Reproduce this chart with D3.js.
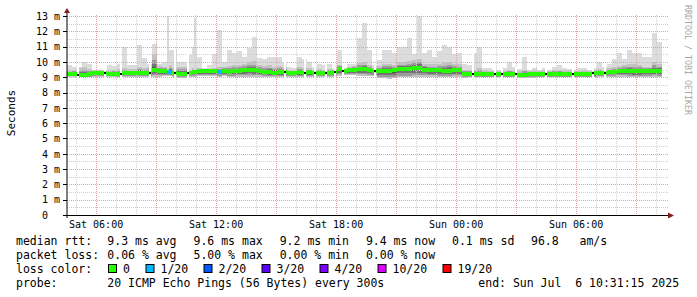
<!DOCTYPE html>
<html><head><meta charset="utf-8">
<script src="https://cdn.jsdelivr.net/npm/d3@7"></script>
<style>
html,body{margin:0;padding:0;background:#fff;}
svg{display:block;}
text{font-family:"DejaVu Sans Mono",monospace;white-space:pre;}
</style></head><body>
<svg id="c" width="697" height="297"></svg>
<script>
// ---------------- DATA ----------------
const startTime = "2025-07-05T04:31:15Z";
const endTime   = "2025-07-06T10:31:15Z";
const bucketMinutes = 15;

// median round-trip time per 15-minute bucket (ms)
const medianMs = [
 9.22,9.22,9.18,9.15,9.2,9.25,9.25,9.25,9.2,9.2,
 9.2,9.28,9.25,9.25,9.3,9.28,9.3,9.45,9.42,9.4,
 9.37,9.3,9.22,9.22,9.3,9.35,9.38,9.38,9.38,9.38,
 9.35,9.4,9.35,9.38,9.4,9.45,9.5,9.45,9.4,9.35,
 9.35,9.3,9.33,9.33,9.3,9.3,9.32,9.3,9.32,9.3,
 9.3,9.3,9.3,9.35,9.55,9.4,9.45,9.5,9.55,9.55,
 9.45,9.42,9.4,9.42,9.4,9.45,9.55,9.55,9.55,9.6,
 9.62,9.5,9.45,9.45,9.45,9.42,9.42,9.45,9.45,9.2,
 9.2,9.2,9.2,9.2,9.22,9.2,9.2,9.2,9.2,9.22,
 9.12,9.18,9.2,9.2,9.2,9.22,9.22,9.22,9.22,9.22,
 9.22,9.22,9.22,9.22,9.22,9.25,9.3,9.3,9.35,9.35,
 9.4,9.4,9.38,9.38,9.38,9.38,9.38,9.4,9.38,null];
// fastest ping per bucket (ms)
const minMs = [
 9.05,9.05,9.0,9.02,9.0,9.05,9.05,9.05,9.05,9.05,
 9.0,9.05,9.05,9.05,9.05,9.05,9.05,9.05,9.05,9.1,
 9.1,9.05,8.98,8.98,9.05,9.05,9.1,9.1,9.1,9.1,
 9.05,9.1,9.05,9.05,9.05,9.05,9.05,9.05,9.05,9.05,
 9.0,9.0,9.0,9.0,9.0,9.05,9.05,9.0,9.0,9.05,
 9.0,9.05,9.0,9.05,9.1,9.15,9.15,9.15,9.1,9.1,
 9.1,9.1,8.95,8.95,8.92,8.95,9.0,9.0,9.0,9.05,
 9.05,9.05,9.05,9.05,9.0,9.0,9.0,9.05,9.05,8.98,
 9.0,9.0,9.0,9.0,9.0,9.0,9.0,9.0,9.0,9.0,
 8.98,8.98,8.98,8.98,9.0,9.0,9.0,9.0,9.0,9.0,
 9.0,9.0,9.0,9.0,9.0,9.0,9.0,9.0,9.05,9.05,
 9.05,9.05,9.05,9.0,9.0,9.05,9.05,9.05,9.05,null];
// upper bulk of the pings per bucket (ms)
const upperMs = [
 9.45,9.5,9.6,9.65,9.55,9.45,9.45,9.4,9.45,9.5,
 9.55,9.6,9.55,9.55,9.7,9.6,9.65,10.5,9.75,9.7,
 9.8,9.6,9.7,9.7,9.5,9.6,9.6,9.5,9.55,9.6,
 9.7,9.7,9.75,9.8,9.8,9.9,10.0,10.05,9.8,9.75,
 9.8,9.7,9.75,9.7,9.5,9.45,9.65,9.6,9.6,9.5,
 9.55,9.5,9.55,9.5,9.8,9.55,9.7,9.75,9.95,10.0,
 9.8,9.6,9.75,9.9,9.9,9.8,10.0,10.0,10.05,10.1,
 10.2,9.9,9.85,9.85,9.9,9.95,10.0,9.9,9.85,9.5,
 9.5,9.5,9.6,9.45,9.4,9.4,9.4,9.4,9.5,9.45,
 9.4,9.5,9.4,9.45,9.4,9.45,9.4,9.5,9.5,9.45,
 9.45,9.4,9.4,9.45,9.4,9.45,9.55,9.5,9.6,9.7,
 9.75,9.8,9.9,9.85,9.8,9.7,9.7,10.0,9.9,null];
// slowest ping per bucket (ms)
const peakMs = [
 9.8,9.7,9.7,10.0,9.9,9.5,9.5,9.5,9.8,9.75,
 9.9,11.0,9.8,9.8,11.1,10.25,9.9,11.2,9.9,10.0,
 10.8,10.8,10.0,10.0,10.45,11.0,10.3,9.6,9.8,10.5,
 12.1,10.0,10.8,10.6,10.7,10.3,10.9,11.65,10.25,10.2,
 10.3,10.3,10.3,10.0,9.7,9.6,10.35,10.2,10.0,9.7,
 9.9,9.8,9.85,9.6,10.8,9.6,9.9,9.9,11.55,12.55,
 10.8,9.8,10.1,10.8,10.8,10.6,11.0,11.0,11.55,10.5,
 13.0,10.6,10.8,10.3,10.7,11.1,11.0,10.5,10.6,9.9,
 9.8,10.6,11.0,9.6,9.6,9.5,9.5,9.6,10.0,9.7,
 9.55,10.3,9.5,9.6,9.5,9.6,9.5,9.7,9.8,9.6,
 9.55,9.5,9.6,9.6,9.5,9.6,10.0,9.7,9.9,10.2,
 10.6,10.2,10.8,10.6,10.6,10.35,10.3,11.9,11.3,null];
// lost pings (of 20) per bucket
const lostPings = [
 0,0,0,0,0,0,0,0,0,0, 0,0,0,0,0,0,0,0,0,0,
 1,0,0,0,0,0,0,0,0,0, 1,0,0,0,0,0,0,0,0,0,
 0,0,0,0,0,0,0,0,0,0, 0,0,0,0,0,0,0,0,0,0,
 0,0,0,0,0,0,0,0,0,0, 0,0,0,0,0,0,0,0,0,0,
 0,0,0,0,0,0,0,0,0,0, 0,0,0,0,0,0,0,0,0,0,
 0,0,0,0,0,0,0,0,0,0, 0,0,0,0,0,0,0,0,0,0];
// single-sample outliers [time, ms]
const spikes = [["2025-07-05T09:34Z", 13.0], ["2025-07-05T10:55Z", 12.9]];
// steps without smoke
const gapTimes = ["2025-07-05T05:04Z","2025-07-05T06:24Z","2025-07-05T07:13Z","2025-07-05T08:40Z",
 "2025-07-05T09:54Z","2025-07-05T10:34Z","2025-07-05T15:25Z","2025-07-05T16:25Z","2025-07-05T16:54Z",
 "2025-07-05T17:28Z","2025-07-05T17:54Z","2025-07-05T18:18Z","2025-07-05T19:54Z","2025-07-06T00:48Z",
 "2025-07-06T01:54Z","2025-07-06T02:16Z","2025-07-06T02:57Z","2025-07-06T04:28Z","2025-07-06T05:48Z",
 "2025-07-06T06:48Z","2025-07-06T07:24Z"];

const yTickValues = [0,1,2,3,4,5,6,7,8,9,10,11,12,13];
const yTickUnits  = ["","m","m","m","m","m","m","m","m","m","m","m","m","m"];
const xTickLabels = ["Sat 06:00","Sat 12:00","Sat 18:00","Sun 00:00","Sun 06:00"];

const lossLabels = ["0","1/20","2/20","3/20","4/20","10/20","19/20"];
const lossColors = ["#26ff00","#00b8ff","#0059ff","#5e00ff","#7e00ff","#dd00ff","#ff0000"];
const rttLabel = "median rtt:";
const rttStats = ["9.3 ms avg","9.6 ms max","9.2 ms min","9.4 ms now","0.1 ms sd","96.8   am/s"];
const lossLabel = "packet loss:";
const lossStats = ["0.06 % avg","5.00 % max","0.00 % min","0.00 % now"];
const colorLabel = "loss color:";
const probeLabel = "probe:";
const probeText = "20 ICMP Echo Pings (56 Bytes) every 300s";
const endText = "end: Sun Jul  6 10:31:15 2025";
const yTitle = "Seconds";
const sideText = "RRDTOOL / TOBI OETIKER";

// ---------------- CHART ----------------
const svg = d3.select("#c");
const t0 = d3.isoParse(startTime), t1 = d3.isoParse(endTime);
const x = d3.scaleUtc().domain([t0, t1]).range([66.5, 666.5]);
const y = d3.scaleLinear().domain([0, 13.07]).range([215, 15]);
const stepMs = bucketMinutes * 60000;
const bucketStart = i => new Date(t0.getTime() + i * stepMs);

const buckets = medianMs.map((m, i) => ({
  i, med: m, lo: minMs[i], up: upperMs[i], pk: peakMs[i], loss: lostPings[i],
  a: bucketStart(i), b: bucketStart(i + 1)
})).filter(d => d.med != null);

const smoke = svg.append("g").attr("shape-rendering", "crispEdges");
function layer(color, lowF, highF) {
  smoke.selectAll(null).data(buckets).enter().append("rect")
    .attr("x", d => x(d.a)).attr("width", d => x(d.b) - x(d.a))
    .attr("y", d => y(highF(d))).attr("height", d => Math.max(0, y(lowF(d)) - y(highF(d))))
    .attr("fill", color);
}
layer("#dcdcdc", d => d.lo, d => d.pk);
layer("#c2c2c2", d => d.lo, d => d.up);
layer("#9c9c9c", d => d.med - 0.8 * (d.med - d.lo), d => d.med + 0.62 * (d.up - d.med));
layer("#747474", d => d.med - 0.55 * (d.med - d.lo), d => d.med + 0.38 * (d.up - d.med));
layer("#555555", d => d.med - 0.3 * (d.med - d.lo), d => d.med + 0.2 * (d.up - d.med));

// thin outliers
smoke.selectAll(null).data(spikes).enter().append("rect")
  .attr("x", d => x(d3.isoParse(d[0]))).attr("width", 1.5)
  .attr("y", d => y(d[1])).attr("height", d => y(9.5) - y(d[1]))
  .attr("fill", "#d8d8d8");

// gaps
const gaps = gapTimes.map(s => {
  const t = d3.isoParse(s);
  const idx = Math.floor((t - t0) / stepMs);
  return { t, t2: new Date(t.getTime() + 6 * 60000), b: buckets.find(d => d.i === idx) };
}).filter(g => g.b);
smoke.selectAll(null).data(gaps).enter().append("rect")
  .attr("x", d => x(d.t)).attr("width", d => x(d.t2) - x(d.t))
  .attr("y", d => y(d.b.pk) - 1).attr("height", d => y(d.b.lo) - y(d.b.pk) + 2)
  .attr("fill", "#ffffff");

// grid
const grid = svg.append("g").attr("fill", "none");
const snap = v => Math.round(v) + 0.5;
const hMinor = d3.range(0.5, 13, 1);
const hMajor = d3.range(1, 14, 1);
grid.selectAll(null).data(hMinor).enter().append("line")
  .attr("x1", 67).attr("x2", 668).attr("y1", d => snap(y(d))).attr("y2", d => snap(y(d)))
  .attr("stroke", "#cfcfcf").attr("stroke-dasharray", "1,1");
const hours = d3.utcHour.range(t0, t1);
grid.selectAll(null).data(hours.filter(h => h.getUTCHours() % 3 !== 0)).enter().append("line")
  .attr("x1", d => snap(x(d))).attr("x2", d => snap(x(d))).attr("y1", 15).attr("y2", 215)
  .attr("stroke", "#cfcfcf").attr("stroke-dasharray", "1,1");
grid.selectAll(null).data(hMajor).enter().append("line")
  .attr("x1", 67).attr("x2", 668).attr("y1", d => snap(y(d))).attr("y2", d => snap(y(d)))
  .attr("stroke", "#e4a4a4").attr("stroke-dasharray", "1,1");
grid.selectAll(null).data(hours.filter(h => h.getUTCHours() % 3 === 0)).enter().append("line")
  .attr("x1", d => snap(x(d))).attr("x2", d => snap(x(d))).attr("y1", 15).attr("y2", 215)
  .attr("stroke", "#e4a4a4").attr("stroke-dasharray", "1,1");

// median band coloured by loss
const band = svg.append("g").attr("shape-rendering", "crispEdges");
band.selectAll(null).data(buckets).enter().append("rect")
  .attr("x", d => x(d.a)).attr("width", d => x(d.b) - x(d.a))
  .attr("y", d => y(d.med) - 2).attr("height", 4)
  .attr("fill", d => lossColors[d.loss]);
band.selectAll(null).data(gaps).enter().append("rect")
  .attr("x", d => x(d.t)).attr("width", d => x(d.t2) - x(d.t))
  .attr("y", d => y(d.b.pk) - 1).attr("height", d => y(d.b.lo) - y(d.b.pk) + 2)
  .attr("fill", "#ffffff");
band.selectAll(null).data(gaps).enter().append("rect")
  .attr("x", d => x(d.t)).attr("width", d => x(d.t2) - x(d.t))
  .attr("y", d => y(d.b.med) - 1).attr("height", 2)
  .attr("fill", "#111");

// axes
const ax = svg.append("g");
ax.append("line").attr("x1", 63).attr("x2", 669).attr("y1", 215.5).attr("y2", 215.5)
  .attr("stroke", "#000").attr("shape-rendering", "crispEdges");
ax.append("line").attr("x1", 67).attr("x2", 67).attr("y1", 218).attr("y2", 12)
  .attr("stroke", "#000");
ax.append("path").attr("d", "M668,212.5L674,215.5L668,218.5Z").attr("fill", "#8b1a1a");
ax.append("path").attr("d", "M64,13L67,8L70,13Z").attr("fill", "#8b1a1a");
ax.selectAll(null).data(yTickValues).enter().append("line")
  .attr("x1", 63).attr("x2", 67).attr("y1", d => snap(y(d))).attr("y2", d => snap(y(d)))
  .attr("stroke", "#000").attr("shape-rendering", "crispEdges");

// y labels
ax.selectAll(null).data(yTickValues).enter().append("text")
  .attr("x", 48).attr("y", d => y(d) + 3.8).attr("text-anchor", "end")
  .attr("font-size", "10px").attr("fill", "#000").text(d => d);
ax.selectAll(null).data(yTickValues).enter().append("text")
  .attr("x", 54).attr("y", d => y(d) + 3.8)
  .attr("font-size", "10px").attr("fill", "#000").text((d, i) => yTickUnits[i]);

// x labels
const xTicks = d3.utcHour.every(6).range(t0, t1);
ax.selectAll(null).data(xTicks).enter().append("text")
  .attr("x", d => x(d)).attr("y", 228).attr("text-anchor", "middle")
  .attr("font-size", "10px").attr("fill", "#000").text((d, i) => xTickLabels[i]);

// titles
svg.append("text").attr("transform", "translate(11,113) rotate(-90)")
  .attr("text-anchor", "middle").attr("dominant-baseline", "central")
  .attr("font-size", "11px").attr("fill", "#000").text(yTitle);
svg.append("text").attr("transform", "translate(688,60) rotate(90)")
  .attr("text-anchor", "middle").attr("dominant-baseline", "central")
  .attr("font-size", "8.3px").attr("fill", "#a8a8a8").text(sideText);

// legend
const lg = svg.append("g").attr("font-size", "11.5px").attr("fill", "#000");
const rows = [245.3, 259.1, 272.9, 286.7];
const statX = [107.3, 193.5, 279.7, 365.9, 452, 531];
lg.append("text").attr("x", 16).attr("y", rows[0]).text(rttLabel);
rttStats.forEach((s, i) => lg.append("text").attr("x", statX[i]).attr("y", rows[0]).text(s));
lg.append("text").attr("x", 16).attr("y", rows[1]).text(lossLabel);
lossStats.forEach((s, i) => lg.append("text").attr("x", statX[i]).attr("y", rows[1]).text(s));
lg.append("text").attr("x", 16).attr("y", rows[2]).text(colorLabel);
const boxX = [108.5, 146, 204, 262, 320, 378, 443];
lossLabels.forEach((s, i) => {
  lg.append("rect").attr("x", boxX[i]).attr("y", 264.5).attr("width", 8).attr("height", 8)
    .attr("fill", lossColors[i]).attr("stroke", "#000").attr("stroke-width", 1);
  lg.append("text").attr("x", boxX[i] + 14.5).attr("y", rows[2]).text(s);
});
lg.append("text").attr("x", 16).attr("y", rows[3]).text(probeLabel);
lg.append("text").attr("x", 107.3).attr("y", rows[3]).text(probeText);
lg.append("text").attr("x", 478.3).attr("y", rows[3]).text(endText);
</script>
</body></html>
